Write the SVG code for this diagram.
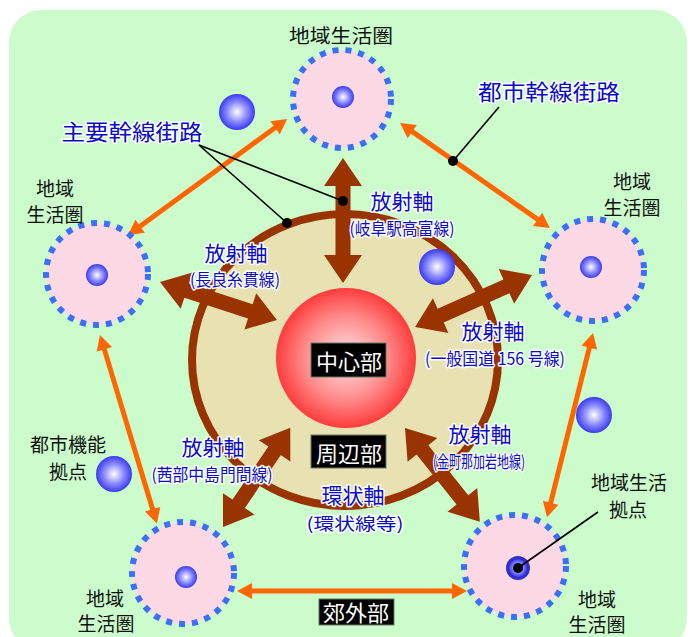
<svg xmlns="http://www.w3.org/2000/svg" width="691" height="637" viewBox="0 0 691 637">
<defs>
<radialGradient id="gBlue" cx="50%" cy="50%" r="50%">
<stop offset="0" stop-color="#ffffff"/>
<stop offset="0.55" stop-color="#8c8cff"/>
<stop offset="1" stop-color="#3a3af0"/>
</radialGradient>
<radialGradient id="gRed" cx="50%" cy="50%" r="50%">
<stop offset="0" stop-color="#ffe6e6"/>
<stop offset="0.6" stop-color="#ff8a8a"/>
<stop offset="1" stop-color="#ff3c3c"/>
</radialGradient>
<style>
.jp{font-family:"Noto Sans CJK JP","Noto Sans CJK SC",sans-serif;}
.blk{font-size:19px;fill:#111;text-anchor:middle;}
.blue{fill:#0a0ac8;text-anchor:middle;stroke:#ffffff;stroke-width:3;stroke-linejoin:round;paint-order:stroke;}
.big{font-size:21px;}
.sub{font-size:17px;}
.wht{font-size:22px;fill:#ffffff;text-anchor:middle;}
.box{fill:#000;stroke:#667766;stroke-width:1;}
.sat{fill:#fdd9e6;stroke:#3a6ff7;stroke-width:6;stroke-dasharray:6 7;}
.sph{fill:url(#gBlue);}
.orange{fill:#ff6600;}
.brown{fill:#993300;}
.lead{stroke:#000;stroke-width:1.6;fill:none;}
</style>
</defs>
<rect x="0" y="0" width="691" height="637" fill="#ffffff"/>
<rect x="9" y="10" width="678" height="640" rx="32" fill="#ccfccc"/>

<g id="ring">
<ellipse cx="345" cy="360" rx="153" ry="146" fill="#e8e2b2" stroke="#993300" stroke-width="8"/>
</g>
<g id="center">
<circle cx="346" cy="358" r="70" fill="url(#gRed)"/>
</g>

<g id="connectors">
<polygon class="orange" transform="translate(128,235) rotate(-36.1)" points="0,0 15,-8 15,-2.5 182,-2.5 182,-8 197,0 182,8 182,2.5 15,2.5 15,8"/>
<polygon class="orange" transform="translate(400,123) rotate(35)" points="0,0 15,-8 15,-2.5 168,-2.5 168,-8 183,0 168,8 168,2.5 15,2.5 15,8"/>
<polygon class="orange" transform="translate(593,333) rotate(104)" points="0,0 15,-8 15,-2.5 175,-2.5 175,-8 190,0 175,8 175,2.5 15,2.5 15,8"/>
<polygon class="orange" transform="translate(237,591)" points="0,0 15,-8 15,-2.5 215,-2.5 215,-8 230,0 215,8 215,2.5 15,2.5 15,8"/>
<polygon class="orange" transform="translate(100,335) rotate(73.2)" points="0,0 15,-8 15,-2.5 182,-2.5 182,-8 197,0 182,8 182,2.5 15,2.5 15,8"/>

<polygon class="brown" transform="translate(343,158) rotate(90)" points="0,0 28,-19 28,-7.5 97,-7.5 97,-19 125,0 97,19 97,7.5 28,7.5 28,19"/>
<polygon class="brown" transform="translate(160,282) rotate(18)" points="0,0 28,-19 28,-7.5 95,-7.5 95,-19 123,0 95,19 95,7.5 28,7.5 28,19"/>
<polygon class="brown" transform="translate(532,275) rotate(156)" points="0,0 28,-19 28,-7.5 100,-7.5 100,-19 128,0 100,19 100,7.5 28,7.5 28,19"/>
<polygon class="brown" transform="translate(223,527) rotate(-55.9)" points="0,0 28,-19 28,-7.5 92,-7.5 92,-19 120,0 92,19 92,7.5 28,7.5 28,19"/>
<polygon class="brown" transform="translate(405,428) rotate(51.4)" points="0,0 28,-19 28,-7.5 92,-7.5 92,-19 120,0 92,19 92,7.5 28,7.5 28,19"/>

<line class="lead" x1="199" y1="145" x2="343" y2="201"/>
<line class="lead" x1="199" y1="145" x2="287" y2="223"/>
<circle cx="343" cy="201" r="5" fill="#000"/>
<circle cx="287" cy="223" r="5" fill="#000"/>
<line class="lead" x1="499" y1="107" x2="453" y2="161"/>
<circle cx="453" cy="161" r="5" fill="#000"/>
</g>

<g id="sat-top"><circle class="sat" cx="342" cy="99" r="49"/><circle class="sph" cx="343" cy="97" r="11"/></g>
<g id="sat-left"><circle class="sat" cx="97" cy="274" r="51"/><circle class="sph" cx="97" cy="275" r="11"/></g>
<g id="sat-right"><circle class="sat" cx="593" cy="270" r="51"/><circle class="sph" cx="591" cy="267" r="11"/></g>
<g id="sat-bl"><circle class="sat" cx="183" cy="573" r="51"/><circle class="sph" cx="186" cy="577" r="11"/></g>
<g id="sat-br"><circle class="sat" cx="515" cy="566" r="51"/><circle cx="518" cy="568" r="12" fill="#3030c8"/><circle class="sph" cx="518" cy="568" r="9"/><circle cx="518" cy="568" r="5" fill="#000"/></g>

<g id="hubs">
<circle class="sph" cx="237" cy="112" r="18"/>
<circle class="sph" cx="437" cy="267" r="18"/>
<circle class="sph" cx="594" cy="415" r="18"/>
<circle class="sph" cx="114" cy="474" r="18"/>
</g>
<line class="lead" x1="598" y1="512" x2="518" y2="568"/>

<g id="zone-labels" class="jp">
<rect class="box" x="311" y="343" width="75" height="34"/>
<text class="wht" x="349" y="370">中心部</text>
<rect class="box" x="311" y="435" width="75" height="33"/>
<text class="wht" x="349" y="462">周辺部</text>
<rect class="box" x="319" y="599" width="75" height="26"/>
<text class="wht" x="356" y="621">郊外部</text>
</g>

<g id="blue-labels" class="jp">
<text class="blue" x="132" y="140" font-size="22" textLength="141" lengthAdjust="spacingAndGlyphs">主要幹線街路</text>
<text class="blue" x="549" y="100" font-size="22" textLength="142" lengthAdjust="spacingAndGlyphs">都市幹線街路</text>
<text class="blue big" x="402" y="209">放射軸</text>
<text class="blue sub" x="402" y="235" textLength="105" lengthAdjust="spacingAndGlyphs">(岐阜駅高富線)</text>
<text class="blue big" x="236" y="261">放射軸</text>
<text class="blue sub" x="235" y="286" textLength="90" lengthAdjust="spacingAndGlyphs">(長良糸貫線)</text>
<text class="blue big" x="493" y="339">放射軸</text>
<text class="blue sub" x="495" y="365" textLength="140" lengthAdjust="spacingAndGlyphs">(一般国道 156 号線)</text>
<text class="blue big" x="213" y="455">放射軸</text>
<text class="blue sub" x="212" y="481" textLength="121" lengthAdjust="spacingAndGlyphs">(茜部中島門間線)</text>
<text class="blue big" x="480" y="442">放射軸</text>
<text class="blue sub" x="479" y="468" font-size="15" textLength="92" lengthAdjust="spacingAndGlyphs">(金町那加岩地線)</text>
<text class="blue big" x="353" y="503">環状軸</text>
<text class="blue sub" x="355" y="530" textLength="97" lengthAdjust="spacingAndGlyphs">(環状線等)</text>
</g>

<g id="black-labels" class="jp">
<text class="blk" x="341" y="43" textLength="104" lengthAdjust="spacingAndGlyphs">地域生活圏</text>
<text class="blk" x="55" y="196">地域</text>
<text class="blk" x="55" y="222">生活圏</text>
<text class="blk" x="632" y="189">地域</text>
<text class="blk" x="632" y="215">生活圏</text>
<text class="blk" x="68" y="452">都市機能</text>
<text class="blk" x="68" y="479">拠点</text>
<text class="blk" x="105" y="606">地域</text>
<text class="blk" x="106" y="631">生活圏</text>
<text class="blk" x="597" y="607">地域</text>
<text class="blk" x="597" y="632">生活圏</text>
<text class="blk" x="629" y="490">地域生活</text>
<text class="blk" x="628" y="517">拠点</text>
</g>
</svg>
